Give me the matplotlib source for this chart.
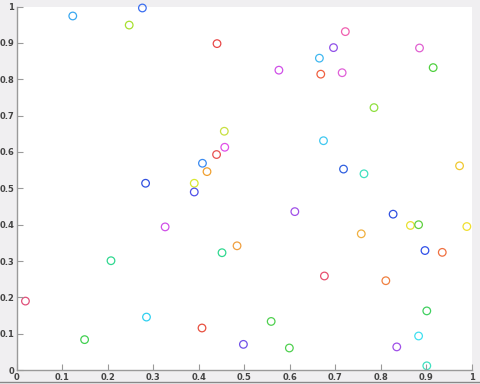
import matplotlib
matplotlib.use("Agg")
import matplotlib.pyplot as plt

x = [0.019, 0.123, 0.276, 0.247, 0.440, 0.456, 0.457, 0.439, 0.408, 0.418,
     0.390, 0.283, 0.390, 0.326, 0.207, 0.451, 0.484, 0.285, 0.407, 0.149,
     0.722, 0.696, 0.665, 0.576, 0.668, 0.715, 0.885, 0.915, 0.785, 0.674,
     0.718, 0.763, 0.973, 0.611, 0.827, 0.865, 0.883, 0.989, 0.757, 0.897,
     0.935, 0.676, 0.811, 0.901, 0.559, 0.883, 0.498, 0.599, 0.835, 0.901]
y = [0.190, 0.974, 0.996, 0.949, 0.898, 0.657, 0.613, 0.593, 0.569, 0.546,
     0.514, 0.514, 0.490, 0.394, 0.301, 0.323, 0.342, 0.146, 0.116, 0.084,
     0.931, 0.887, 0.858, 0.825, 0.814, 0.818, 0.886, 0.832, 0.722, 0.631,
     0.553, 0.540, 0.562, 0.436, 0.429, 0.398, 0.400, 0.395, 0.375, 0.329,
     0.324, 0.259, 0.246, 0.163, 0.134, 0.094, 0.071, 0.061, 0.064, 0.012]
colors = ["#e0507a", "#3aa8f0", "#3a6ef0", "#a8e030", "#e84848", "#c8e040",
          "#e050e8", "#e85050", "#3a8af0", "#f0a030", "#d8e830", "#3050e0",
          "#5050e8", "#d050e8", "#30d890", "#30d890", "#f0a040", "#30d0f0",
          "#e85040", "#40d050", "#f060b0", "#9050e8", "#40b8f0", "#d050e8",
          "#f06040", "#e060d8", "#e060d0", "#50d040", "#90e040", "#40c8f0",
          "#3060e0", "#40e0c0", "#f0c830", "#a050e8", "#3050e0", "#e8e030",
          "#60d040", "#f0e030", "#f0b040", "#3050e8", "#f07040", "#e85070",
          "#f08040", "#40d060", "#50d050", "#40e0f0", "#7050e8", "#50d050",
          "#a050e8", "#40e0c0"]
ticks = [0, 0.1, 0.2, 0.3, 0.4, 0.5, 0.6, 0.7, 0.8, 0.9, 1]
tick_labels = ["0", "0.1", "0.2", "0.3", "0.4", "0.5", "0.6", "0.7", "0.8", "0.9", "1"]

fig = plt.figure(figsize=(4.8, 3.84), dpi=100, facecolor="#f0eff1")
ax = fig.add_axes([0.035, 0.036, 0.948, 0.947])
ax.scatter(x, y, s=30, facecolors="none", edgecolors=colors, linewidths=0.9, clip_on=False)
ax.set_xlim(0, 1)
ax.set_ylim(0, 1)
ax.set_xticks(ticks)
ax.set_xticklabels(tick_labels)
ax.set_yticks(ticks)
ax.set_yticklabels(tick_labels)
for side in ["top", "right"]:
    ax.spines[side].set_visible(False)
for side in ["left", "bottom"]:
    ax.spines[side].set_color("#9a9a9a")
    ax.spines[side].set_linewidth(1.0)
ax.tick_params(direction="in", length=4, width=0.8, color="#9a9a9a",
               labelsize=6, labelcolor="#444444", pad=2)
for lbl in ax.get_xticklabels() + ax.get_yticklabels():
    lbl.set_fontweight("bold")
fig.add_artist(plt.Line2D([0, 1], [0.004, 0.004], color="#888888", linewidth=1.0))
fig.savefig("out.png", dpi=100, facecolor=fig.get_facecolor())
